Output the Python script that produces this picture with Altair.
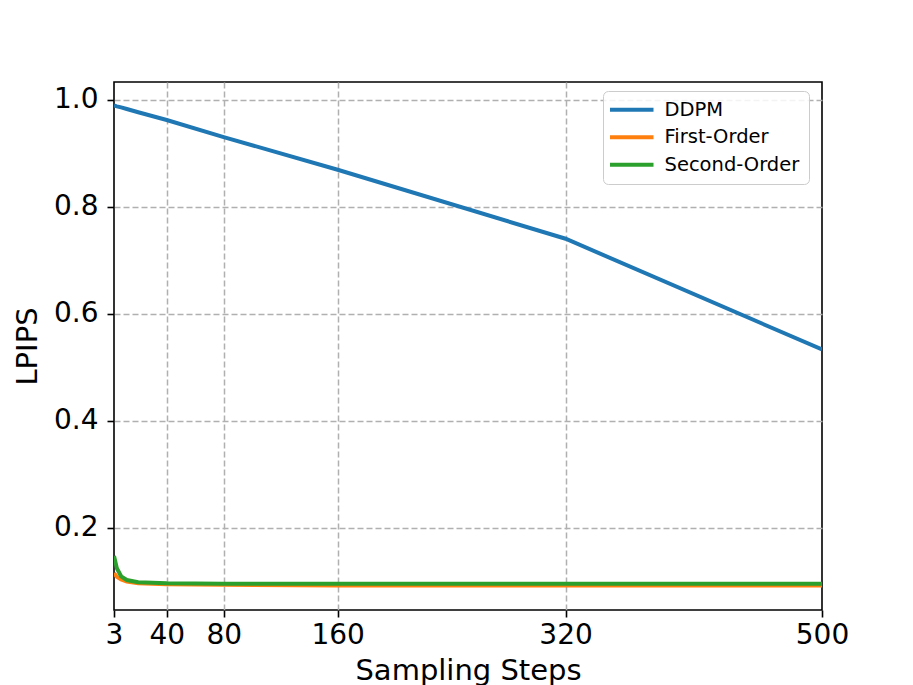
import altair as alt
import pandas as pd

steps = [3, 5, 8, 12, 20, 40, 80, 160, 320, 500]
ddpm = [0.989, 0.9875, 0.9855, 0.9825, 0.9765, 0.962, 0.930, 0.869, 0.740, 0.533]
first_order = [0.115, 0.108, 0.103, 0.099, 0.096, 0.094, 0.093, 0.092, 0.092, 0.092]
second_order = [0.147, 0.124, 0.109, 0.102, 0.098, 0.096, 0.095, 0.095, 0.095, 0.095]
series = ["DDPM", "First-Order", "Second-Order"]
colors = ["#1f77b4", "#ff7f0e", "#2ca02c"]
x_ticks = [3, 40, 80, 160, 320, 500]
y_ticks = [0.2, 0.4, 0.6, 0.8, 1.0]

rows = []
for name, vals in zip(series, [ddpm, first_order, second_order]):
    for s, v in zip(steps, vals):
        rows.append({"steps": s, "lpips": v, "method": name})
df = pd.DataFrame(rows)

FONT = "DejaVu Sans"

x_axis = alt.Axis(
    values=x_ticks, title="Sampling Steps", labelFontSize=28, titleFontSize=29,
    labelFont=FONT, titleFont=FONT, titleFontWeight="normal", labelColor="black",
    titleColor="black", tickSize=7, tickColor="black", tickWidth=1.6,
    labelPadding=4, titlePadding=7, domain=False, grid=True,
    gridColor="#b0b0b0", gridDash=[6, 3], gridWidth=1.5,
    gridOpacity={"condition": {"test": "datum.value == 3 || datum.value == 500", "value": 0}, "value": 1},
    labelFlush=False, labelOverlap=False,
)
y_axis = alt.Axis(
    values=y_ticks, format=".1f", title="LPIPS", labelFontSize=28, titleFontSize=29,
    labelFont=FONT, titleFont=FONT, titleFontWeight="normal", labelColor="black",
    titleColor="black", tickSize=7, tickColor="black", tickWidth=1.6,
    labelPadding=9, titlePadding=11, domain=False, grid=True,
    gridColor="#b0b0b0", gridDash=[6, 3], gridWidth=1.5,
    labelFlush=False, labelOverlap=False,
)

legend = alt.Legend(
    title=None, orient="none", legendX=489, legendY=9,
    symbolType="M -2.9 0 H 2.9", symbolSize=225, symbolStrokeWidth=4,
    symbolOffset=10, labelOffset=23, labelFontSize=19.5, labelFont=FONT,
    labelColor="black", rowPadding=6.5, padding=9,
    strokeColor="#cccccc", fillColor="rgba(255,255,255,0.85)", cornerRadius=5,
)

chart = alt.Chart(df).mark_line(strokeWidth=4, clip=True).encode(
    x=alt.X("steps:Q", scale=alt.Scale(domain=[3, 500], nice=False, zero=False), axis=x_axis),
    y=alt.Y("lpips:Q", scale=alt.Scale(domain=[0.046, 1.033], nice=False, zero=False), axis=y_axis),
    color=alt.Color("method:N", scale=alt.Scale(domain=series, range=colors), legend=legend),
).properties(
    width=708, height=528,
    autosize=alt.AutoSizeParams(type="none"),
    padding={"left": 106, "top": 74, "right": 83, "bottom": 75},
).configure_view(stroke="black", strokeWidth=1.6)

chart.save("out.html", embed_options={"renderer": "svg", "actions": False})
